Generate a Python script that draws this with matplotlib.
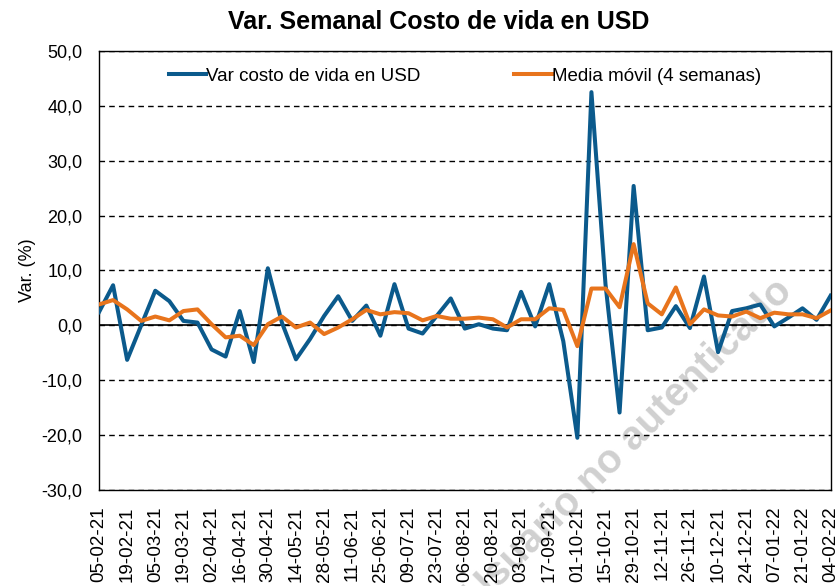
import matplotlib
matplotlib.use("Agg")
from matplotlib import pyplot as plt

# weekly variation (%)
var_usd = [2.4, 7.3, -6.3, 0.0, 6.3, 4.4, 0.8, 0.5, -4.4, -5.7,
           2.6, -6.7, 10.4, 0.5, -6.2, -2.5, 1.7, 5.3, 0.8, 3.6,
           -1.9, 7.5, -0.6, -1.5, 1.7, 4.9, -0.6, 0.2, -0.6, -0.9,
           6.1, -0.2, 7.5, -2.9, -20.5, 42.5, 7.5, -15.9, 25.4, -0.9,
           -0.4, 3.5, -0.5, 8.9, -4.9, 2.6, 3.1, 3.8, -0.2, 1.4,
           3.1, 1.0, 5.4]

media_movil = [3.8, 4.6, 2.9, 0.8, 1.6, 0.9, 2.6, 2.9, 0.2, -2.2,
               -1.9, -3.6, 0.2, 1.6, -0.4, 0.5, -1.6, -0.4, 1.1, 2.8,
               2.0, 2.4, 2.2, 0.9, 1.7, 1.2, 1.2, 1.4, 1.1, -0.4,
               1.1, 1.1, 3.1, 2.8, -3.8, 6.7, 6.7, 3.3, 14.8, 4.0,
               2.0, 6.9, 0.2, 2.9, 1.8, 1.6, 2.5, 1.3, 2.3, 2.0,
               2.0, 1.3, 2.7]

fechas = ["05-02-21", "19-02-21", "05-03-21", "19-03-21", "02-04-21",
          "16-04-21", "30-04-21", "14-05-21", "28-05-21", "11-06-21",
          "25-06-21", "09-07-21", "23-07-21", "06-08-21", "20-08-21",
          "03-09-21", "17-09-21", "01-10-21", "15-10-21", "29-10-21",
          "12-11-21", "26-11-21", "10-12-21", "24-12-21", "07-01-22",
          "21-01-22", "04-02-22"]

plt.rcParams['font.family'] = ['Liberation Sans', 'DejaVu Sans']

fig = plt.figure(figsize=(8.39, 5.86), dpi=100)
ax = fig.add_axes([0.118, 0.164, 0.872, 0.749])

x = list(range(len(var_usd)))
ax.axhline(0, color='black', lw=1.2, zorder=2)
ax.plot(x, var_usd, color='#0B5A8C', lw=2.9, label='Var costo de vida en USD', zorder=4)
ax.plot(x, media_movil, color='#E8741C', lw=2.9, label='Media móvil (4 semanas)', zorder=5)

ax.set_xlim(0, len(var_usd) - 1)
ax.set_ylim(-30, 50)
ax.set_yticks(range(-30, 51, 10))
ax.set_yticklabels([f"{v:.1f}".replace('.', ',') for v in range(-30, 51, 10)], fontsize=13)
ax.set_xticks(x[::2])
ax.set_xticklabels(fechas, rotation=90, fontsize=13.5)
ax.tick_params(axis='y', length=0, pad=12)
ax.tick_params(axis='x', length=0, pad=12)
ax.yaxis.grid(True, color='black', linestyle=(0, (4, 3)), lw=1.0)
ax.set_axisbelow(True)
for s in ax.spines.values():
    s.set_color('black')
    s.set_linewidth(1.0)

ax.set_ylabel('Var. (%)', fontsize=13, labelpad=4)
fig.text(0.523, 0.962, 'Var. Semanal Costo de vida en USD', ha='center', va='center',
         fontsize=18, fontweight='bold')

leg = ax.legend(loc='upper center', bbox_to_anchor=(0.5, 1.0), ncol=2, frameon=False,
                handlelength=2.0, handletextpad=0.0, columnspacing=5.0,
                prop={'size': 13.5})

# watermark (below grid, tick labels and lines)
ax.text(0.749, 0.243, 'Usuario no autenticado', transform=fig.transFigure,
        rotation=45, ha='center', va='center', fontsize=29, fontweight='bold',
        color='#d0d0d0', zorder=0.3, clip_on=False)

fig.savefig('out.png', dpi=100)
